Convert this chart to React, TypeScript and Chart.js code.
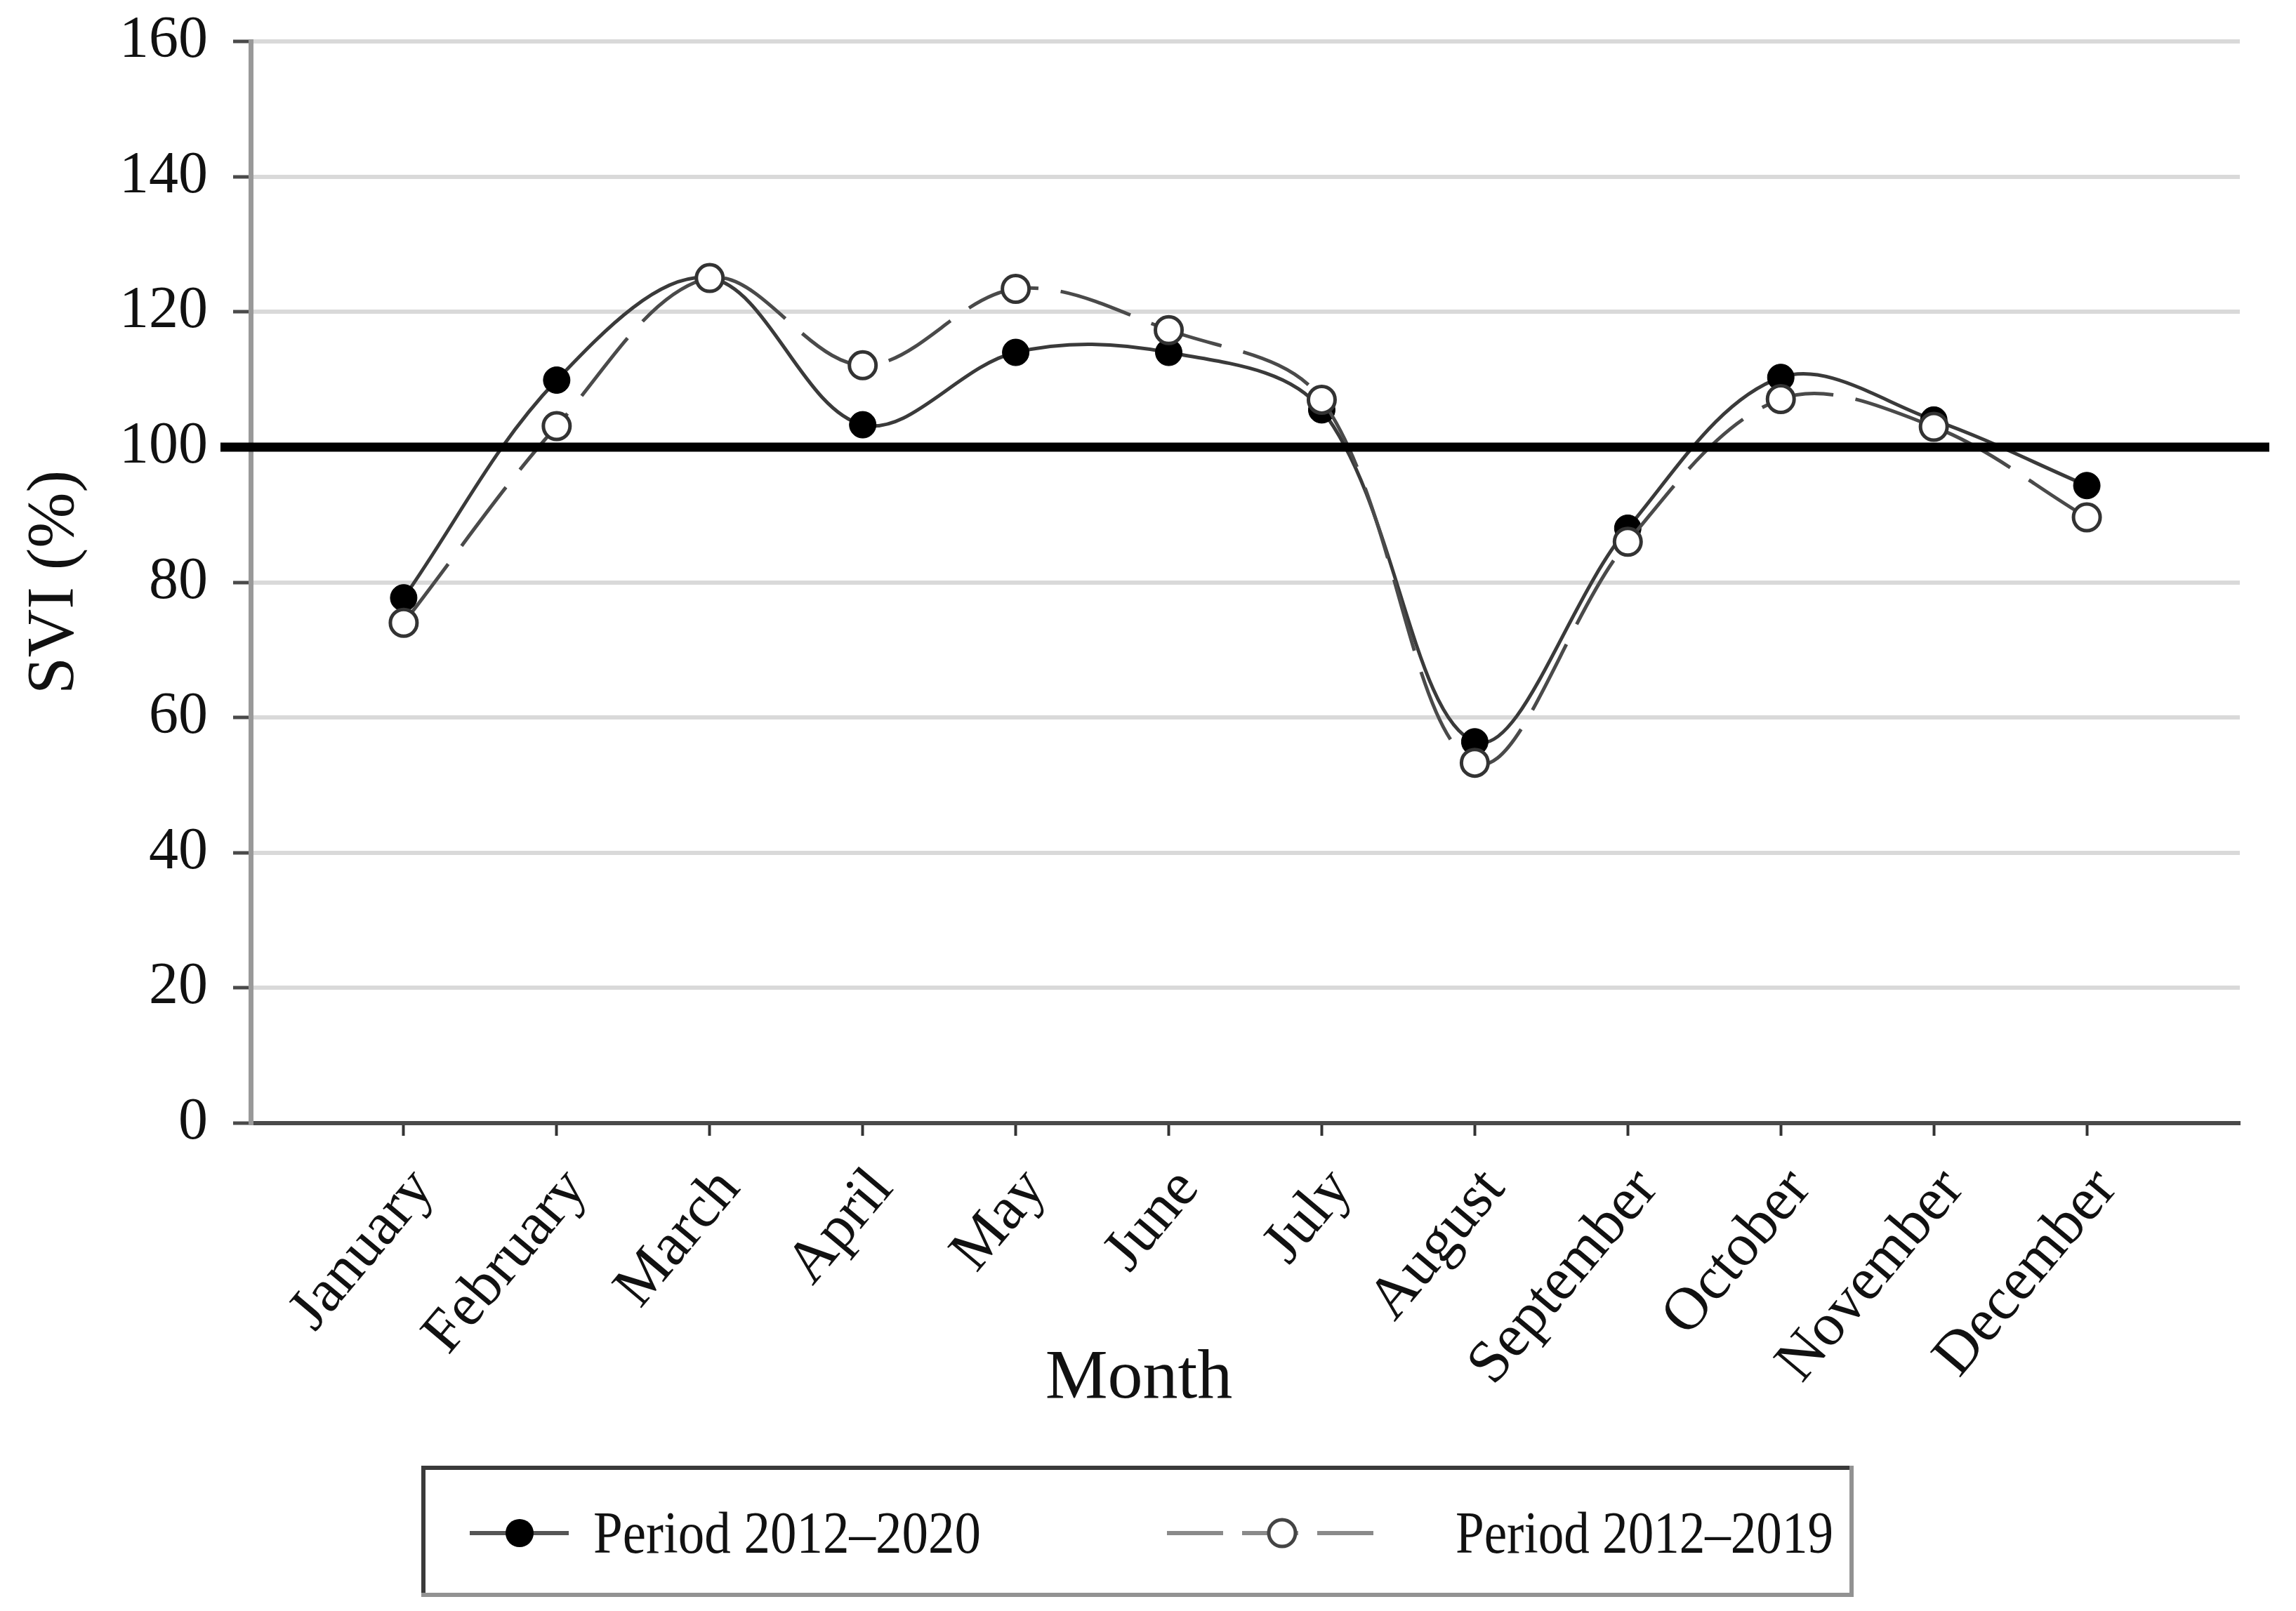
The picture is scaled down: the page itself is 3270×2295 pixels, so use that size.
import React, { useEffect, useRef } from 'react';
import { Chart, registerables } from 'chart.js';

Chart.register(...registerables);

const months = [
  'January', 'February', 'March', 'April', 'May', 'June',
  'July', 'August', 'September', 'October', 'November', 'December',
];
const period2012to2020 = [77.7, 109.9, 125, 103.3, 114, 114, 105.5, 56.4, 88, 110.3, 104, 94.3];
const period2012to2019 = [74, 103.1, 125, 112.1, 123.4, 117.3, 107, 53.3, 86, 107.1, 103, 89.6];
const yTickValues = [0, 20, 40, 60, 80, 100, 120, 140, 160];
const REFERENCE_LEVEL = 100;
const legendLabels = ['Period 2012\u20132020', 'Period 2012\u20132019'];
const xTitle = 'Month';
const yTitle = 'SVI (%)';

const FONT = '"Liberation Serif", "Times New Roman", serif';

const decorPlugin = {
  id: 'decor',
  afterDatasetsDraw(chart: any) {
    const { ctx, chartArea, scales } = chart;
    const y = scales.y.getPixelForValue(REFERENCE_LEVEL);
    ctx.save();
    ctx.strokeStyle = '#000';
    ctx.lineWidth = 13;
    ctx.beginPath();
    ctx.moveTo(chartArea.left - 43, y);
    ctx.lineTo(chartArea.right + 42, y);
    ctx.stroke();
    ctx.restore();
  },
  afterDraw(chart: any) {
    const { ctx } = chart;
    ctx.save();
    // x-axis title
    ctx.fillStyle = '#111';
    ctx.font = `100px ${FONT}`;
    ctx.textAlign = 'center';
    ctx.textBaseline = 'alphabetic';
    ctx.fillText(xTitle, 1622, 1991);

    // legend box
    ctx.fillStyle = '#3a3a3a';
    ctx.fillRect(600, 2088, 2040, 6);
    ctx.fillRect(600, 2088, 6, 187);
    ctx.fillStyle = '#929292';
    ctx.fillRect(600, 2269, 2040, 6);
    ctx.fillRect(2634, 2088, 6, 187);

    const ly = 2184;
    // entry 1: solid line + filled circle
    ctx.strokeStyle = '#555';
    ctx.lineWidth = 6;
    ctx.setLineDash([]);
    ctx.beginPath();
    ctx.moveTo(669, ly);
    ctx.lineTo(810, ly);
    ctx.stroke();
    ctx.fillStyle = '#000';
    ctx.beginPath();
    ctx.arc(740, ly, 20, 0, Math.PI * 2);
    ctx.fill();

    // entry 2: dashed line + open circle
    ctx.strokeStyle = '#8a8a8a';
    ctx.setLineDash([80, 27]);
    ctx.beginPath();
    ctx.moveTo(1662, ly);
    ctx.lineTo(1958, ly);
    ctx.stroke();
    ctx.setLineDash([]);
    ctx.fillStyle = '#fff';
    ctx.strokeStyle = '#444';
    ctx.lineWidth = 5;
    ctx.beginPath();
    ctx.arc(1826, ly, 19, 0, Math.PI * 2);
    ctx.fill();
    ctx.stroke();

    // legend texts (slightly condensed serif)
    ctx.fillStyle = '#111';
    ctx.font = `84px ${FONT}`;
    ctx.textAlign = 'left';
    ctx.textBaseline = 'alphabetic';
    const drawCondensed = (text: string, x: number, y: number, targetW: number) => {
      const w = ctx.measureText(text).width;
      const s = Math.min(1, targetW / w);
      ctx.save();
      ctx.translate(x, y);
      ctx.scale(s, 1);
      ctx.fillText(text, 0, 0);
      ctx.restore();
    };
    drawCondensed(legendLabels[0], 845, 2212, 552);
    drawCondensed(legendLabels[1], 2073, 2212, 538);
    ctx.restore();
  },
};

export default function App() {
  const ref = useRef<HTMLCanvasElement>(null);
  useEffect(() => {
    document.body.style.margin = '0';
    const canvas = ref.current;
    if (!canvas) return;
    const chart = new Chart(canvas, {
      type: 'line',
      data: {
        datasets: [
          {
            label: legendLabels[1],
            data: months.map((_, i) => ({ x: i + 1, y: period2012to2019[i] })),
            borderColor: '#4a4a4a',
            borderWidth: 5,
            borderDash: [105, 32],
            pointRadius: 19,
            pointHoverRadius: 19,
            pointBackgroundColor: '#fff',
            pointBorderColor: '#333',
            pointBorderWidth: 5,
            tension: 0.35,
            fill: false,
            order: 1,
          },
          {
            label: legendLabels[0],
            data: months.map((_, i) => ({ x: i + 1, y: period2012to2020[i] })),
            borderColor: '#3a3a3a',
            borderWidth: 5,
            pointRadius: 19,
            pointHoverRadius: 19,
            pointBackgroundColor: '#000',
            pointBorderColor: '#000',
            pointBorderWidth: 1,
            tension: 0.35,
            fill: false,
            order: 2,
          },
        ],
      },
      options: {
        animation: false,
        responsive: false,
        devicePixelRatio: 1,
        layout: { padding: { top: 59, right: 80, bottom: 0, left: 0 } },
        plugins: { legend: { display: false }, tooltip: { enabled: false } },
        scales: {
          x: {
            type: 'linear',
            min: 0,
            max: 13,
            afterBuildTicks: (s: any) => {
              s.ticks = months.map((_, i) => ({ value: i + 1 }));
            },
            afterFit: (s: any) => {
              s.height = 695;
            },
            grid: {
              drawOnChartArea: false,
              drawTicks: true,
              tickLength: 18,
              tickColor: '#333',
              tickWidth: 4,
            },
            border: { color: '#4a4a4a', width: 6 },
            ticks: {
              autoSkip: false,
              maxRotation: 50,
              minRotation: 50,
              padding: 28,
              labelOffset: 28,
              color: '#111',
              font: { family: FONT, size: 86 },
              callback: (v: any) => months[Number(v) - 1] ?? '',
            },
          },
          y: {
            type: 'linear',
            min: 0,
            max: 160,
            afterBuildTicks: (s: any) => {
              s.ticks = yTickValues.map((v) => ({ value: v }));
            },
            afterFit: (s: any) => {
              s.width = 357;
              s.paddingTop = 0;
              s.paddingBottom = 0;
            },
            grid: {
              color: '#d9d9d9',
              lineWidth: 6,
              tickLength: 25,
              tickColor: '#4a4a4a',
              tickWidth: 5,
            },
            border: { color: '#999', width: 7 },
            ticks: {
              padding: 36,
              color: '#111',
              font: { family: FONT, size: 84 },
            },
            title: {
              display: true,
              text: yTitle,
              color: '#111',
              font: { family: FONT, size: 95 },
              padding: { top: 22, bottom: 0 },
            },
          },
        },
      },
      plugins: [decorPlugin],
    } as any);
    return () => chart.destroy();
  }, []);
  return (
    <canvas
      ref={ref}
      width={3270}
      height={2295}
      style={{ display: 'block', width: '3270px', height: '2295px' }}
    />
  );
}
